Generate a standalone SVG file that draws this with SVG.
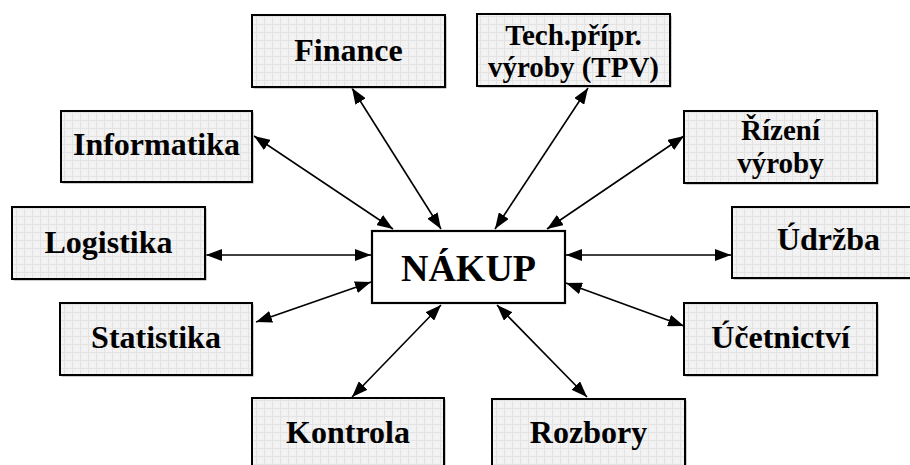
<svg xmlns="http://www.w3.org/2000/svg" width="910" height="465" viewBox="0 0 910 465">
  <style>
    .box { fill: url(#grid); stroke: #000; stroke-width: 2; }
    .shadow { fill: #9a9a9a; }
    .main { fill: #fff; stroke: #000; stroke-width: 2.2; }
    .lbl { font-family: "Liberation Serif", "DejaVu Serif", serif; font-weight: bold; font-size: 32px; fill: #000; text-anchor: middle; }
    .two { font-size: 29px; }
    .big { font-size: 38px; }
    .link { stroke: #000; stroke-width: 1.6; fill: none; marker-start: url(#head); marker-end: url(#head); }
  </style>
  <defs>
    <pattern id="grid" width="8" height="8" patternUnits="userSpaceOnUse">
      <rect width="8" height="8" fill="#f2f2f2"/>
      <path d="M0 0.5H8M0.5 0V8" stroke="#e3e3e3" stroke-width="1"/>
      <rect x="4" y="4" width="1" height="1" fill="#fafafa"/>
    </pattern>
    <marker id="head" viewBox="0 0 16 12" refX="16" refY="6" markerWidth="16" markerHeight="12" markerUnits="userSpaceOnUse" orient="auto-start-reverse">
      <path d="M0 0L16 6L0 12Z" fill="#000"/>
    </marker>
  </defs>

  <rect width="910" height="465" fill="#fff"/>

  <!-- connectors -->
  <g id="connectors">
    <line class="link" x1="254" y1="136" x2="393" y2="229"/>
    <line class="link" x1="352" y1="88" x2="441" y2="229"/>
    <line class="link" x1="588" y1="88" x2="495" y2="229"/>
    <line class="link" x1="684" y1="136" x2="547" y2="229"/>
    <line class="link" x1="206" y1="255" x2="371" y2="255"/>
    <line class="link" x1="566" y1="255" x2="731" y2="255"/>
    <line class="link" x1="256" y1="322" x2="371" y2="282"/>
    <line class="link" x1="566" y1="283" x2="684" y2="326"/>
    <line class="link" x1="441" y1="305" x2="352" y2="397"/>
    <line class="link" x1="497" y1="305" x2="587" y2="397"/>
  </g>

  <!-- central node -->
  <g id="nakup">
    <rect class="main" x="372" y="231" width="193" height="72"/>
    <text class="lbl big" x="468.5" y="281">NÁKUP</text>
  </g>

  <g id="finance">
    <rect class="shadow" x="253.5" y="16.5" width="193" height="72"/>
    <rect class="box" x="252" y="15" width="193" height="72"/>
    <text class="lbl" x="348.5" y="61">Finance</text>
  </g>

  <g id="tpv">
    <rect class="shadow" x="478.5" y="15.5" width="193" height="72"/>
    <rect class="box" x="477" y="14" width="193" height="72"/>
    <text class="lbl two" x="573.5" y="45">Tech.přípr.</text>
    <text class="lbl two" x="573.5" y="77">výroby (TPV)</text>
  </g>

  <g id="informatika">
    <rect class="shadow" x="62.5" y="112.5" width="191" height="71"/>
    <rect class="box" x="61" y="111" width="191" height="71"/>
    <text class="lbl" x="156.5" y="155">Informatika</text>
  </g>

  <g id="rizeni">
    <rect class="shadow" x="685.5" y="112.5" width="193" height="72"/>
    <rect class="box" x="684" y="111" width="193" height="72"/>
    <text class="lbl two" x="780.5" y="140">Řízení</text>
    <text class="lbl two" x="780.5" y="173">výroby</text>
  </g>

  <g id="logistika">
    <rect class="shadow" x="13.5" y="208.5" width="193" height="72"/>
    <rect class="box" x="12" y="207" width="193" height="72"/>
    <text class="lbl" x="108.5" y="253">Logistika</text>
  </g>

  <g id="udrzba">
    <rect class="shadow" x="733.5" y="208.5" width="193" height="71"/>
    <rect class="box" x="732" y="207" width="193" height="71"/>
    <text class="lbl" x="828.5" y="250">Údržba</text>
  </g>

  <g id="statistika">
    <rect class="shadow" x="61.5" y="304.5" width="192" height="72"/>
    <rect class="box" x="60" y="303" width="192" height="72"/>
    <text class="lbl" x="156" y="348">Statistika</text>
  </g>

  <g id="ucetnictvi">
    <rect class="shadow" x="685.5" y="304.5" width="193" height="72"/>
    <rect class="box" x="684" y="303" width="193" height="72"/>
    <text class="lbl" x="780.5" y="348">Účetnictví</text>
  </g>

  <g id="kontrola">
    <rect class="shadow" x="253.5" y="399.5" width="192" height="72"/>
    <rect class="box" x="252" y="398" width="192" height="72"/>
    <text class="lbl" x="348" y="443">Kontrola</text>
  </g>

  <g id="rozbory">
    <rect class="shadow" x="493.5" y="400.5" width="193" height="72"/>
    <rect class="box" x="492" y="399" width="193" height="72"/>
    <text class="lbl" x="588.5" y="443">Rozbory</text>
  </g>
</svg>
